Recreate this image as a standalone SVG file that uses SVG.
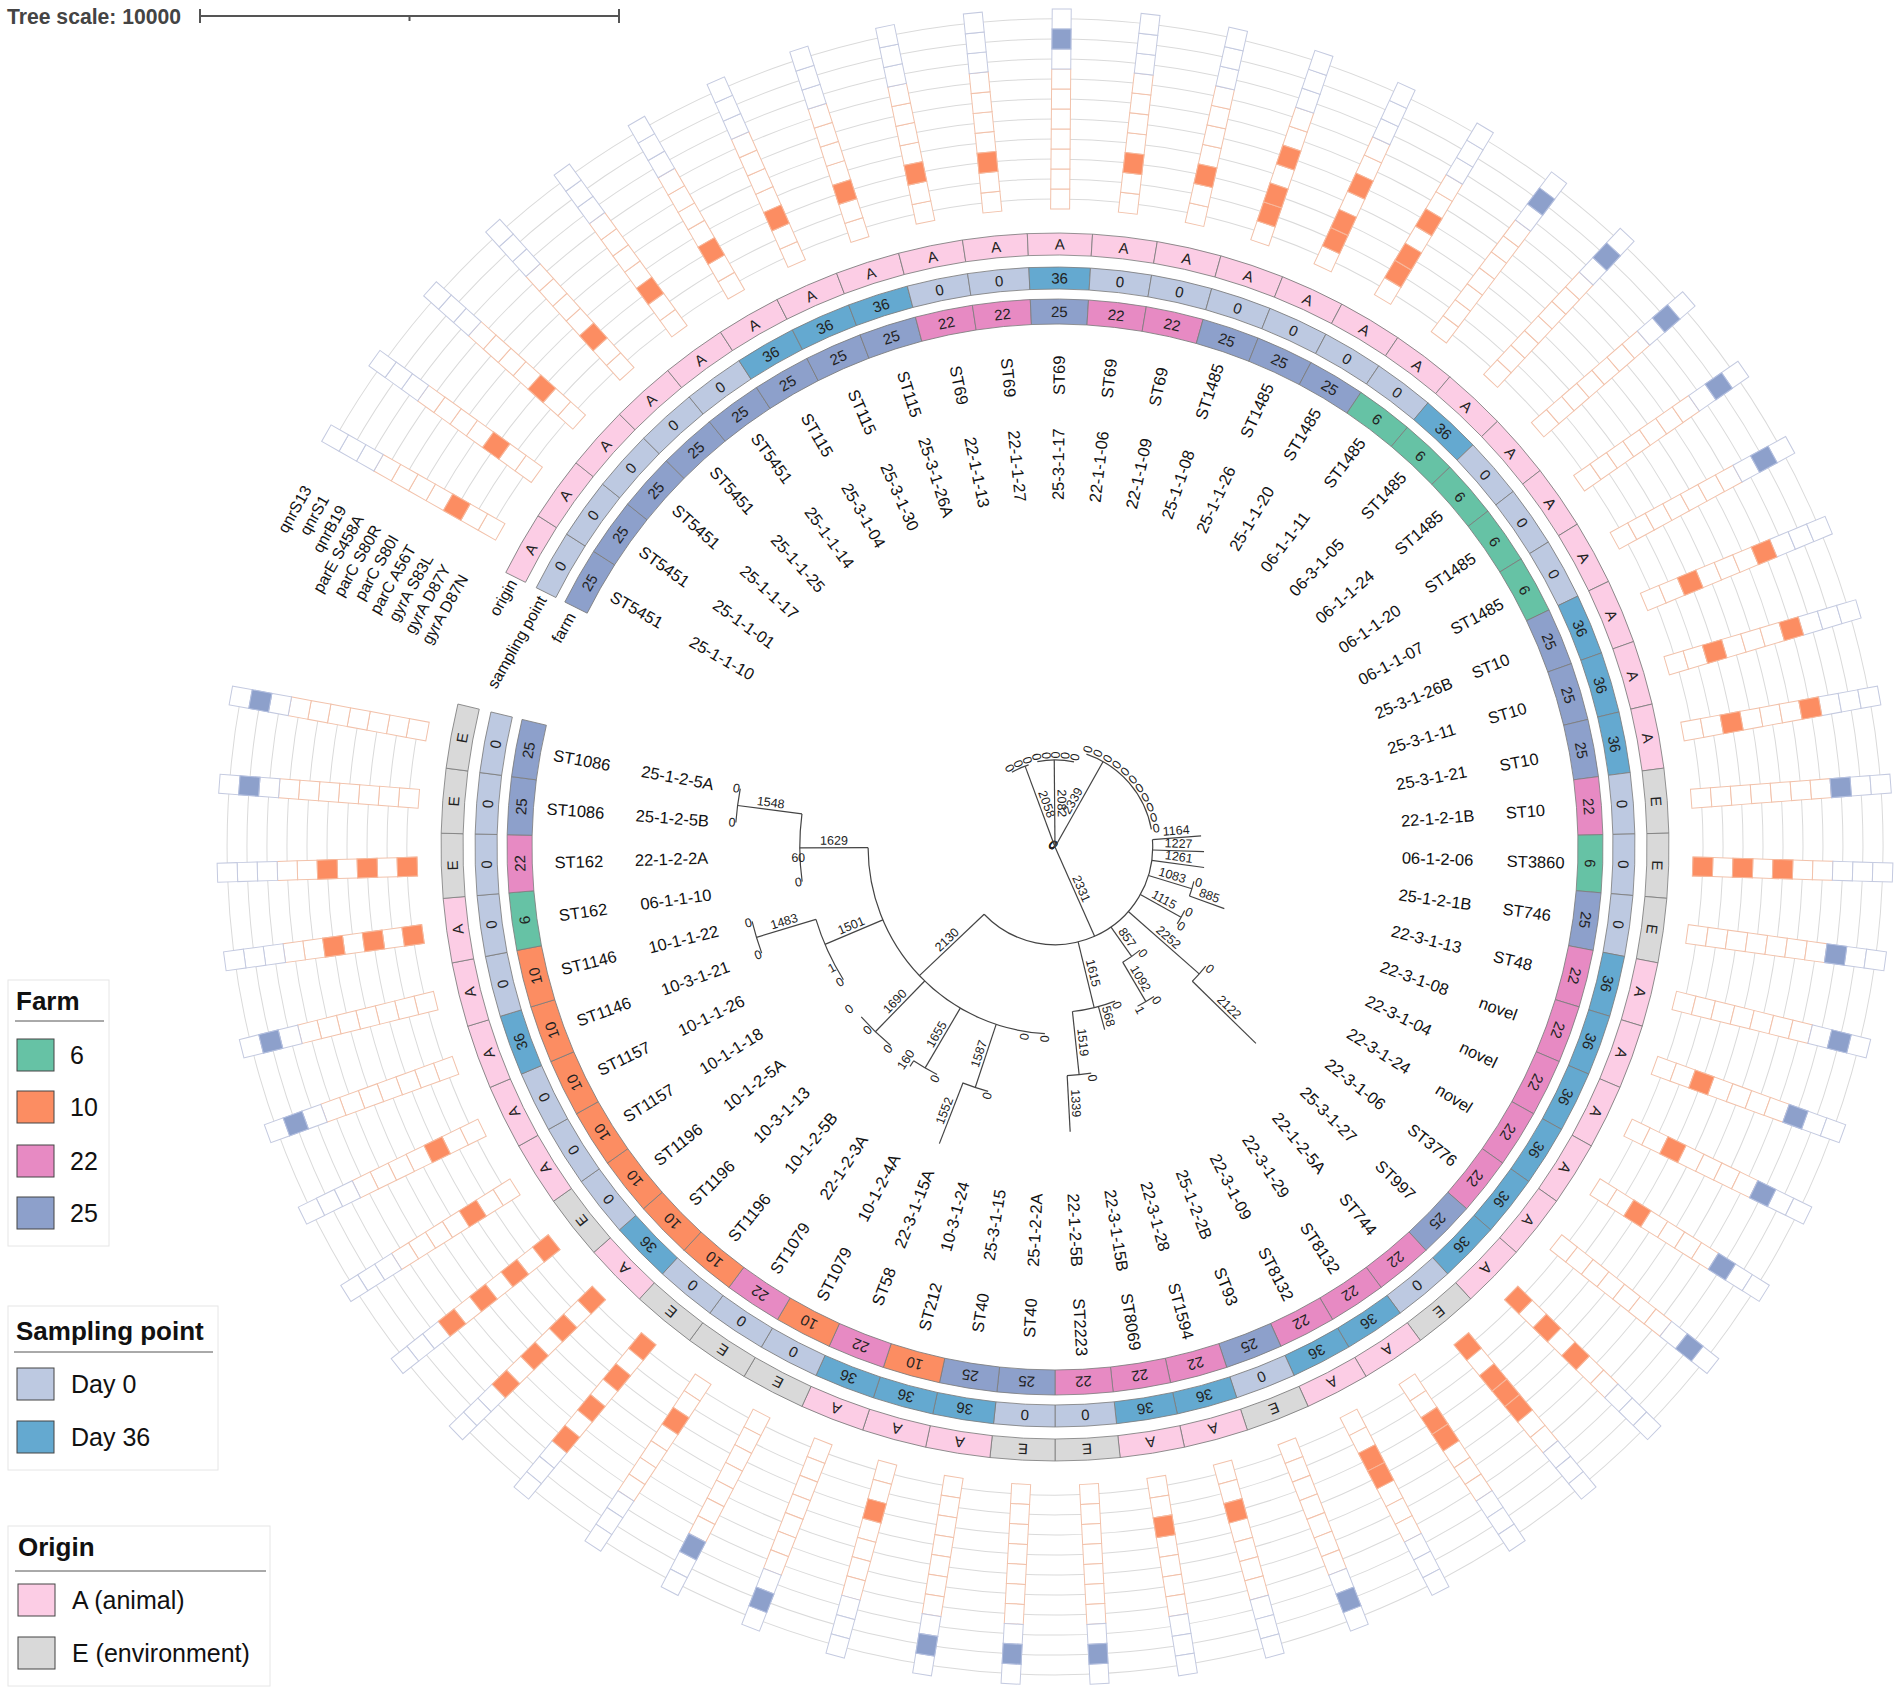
<svg xmlns="http://www.w3.org/2000/svg" xmlns:xlink="http://www.w3.org/1999/xlink" width="1902" height="1694" viewBox="0 0 1902 1694">
<style>
text{font-family:"Liberation Sans",Arial,sans-serif;fill:#111}
.sec{stroke:#7d7d7d;stroke-width:0.8}
.c6{fill:#66c2a5}.c10{fill:#fc8d62}.c22{fill:#e78ac3}.c25{fill:#8da0cb}
.d0{fill:#bdc9e1}.d36{fill:#64a9d0}.oA{fill:#fccde5}.oE{fill:#d9d9d9}
.rt{font-size:15px;text-anchor:middle;dominant-baseline:central;fill:#222}
.lb{font-size:16.5px;dominant-baseline:central}
.L{text-anchor:end}
.gl{font-size:16px;text-anchor:end;dominant-baseline:central}
.em{fill:#fff;stroke:#f2c2ab;stroke-width:1}
.eq{fill:#fff;stroke:#c4cae0;stroke-width:1}
.fo{fill:#fc8d62;stroke:#f7b89c;stroke-width:1}
.fq{fill:#8da0cb;stroke:#b3bfdf;stroke-width:1}
.grid{fill:none;stroke:#dadada;stroke-width:1}
.tr line,.tr path{stroke:#444;stroke-width:1.2;fill:none}
.bl{font-size:12.5px;text-anchor:middle;fill:#222}
.z{font-size:12.5px;text-anchor:middle;dominant-baseline:central;fill:#222}
.lgb{fill:#fff;stroke:#e6e6e6;stroke-width:1}
.lgt{font-size:26px;font-weight:bold}
.lgl{font-size:25px}
.sw{stroke:#444;stroke-width:1}
</style>
<defs>
<path id="sf" class="sec" d="M-29.09,-547.23A548,548 0 0 1 29.09,-547.23L27.77,-522.26A523,523 0 0 0 -27.77,-522.26Z"/>
<path id="ss" class="sec" d="M-30.79,-579.18A580,580 0 0 1 30.79,-579.18L29.62,-557.21A558,558 0 0 0 -29.62,-557.21Z"/>
<path id="so" class="sec" d="M-32.60,-613.13A614,614 0 0 1 32.60,-613.13L31.43,-591.17A592,592 0 0 0 -31.43,-591.17Z"/>
<g id="col">
<rect class="em" x="-9.5" y="-658" width="19" height="20"/>
<rect class="em" x="-9.5" y="-678" width="19" height="20"/>
<rect class="em" x="-9.5" y="-698" width="19" height="20"/>
<rect class="em" x="-9.5" y="-718" width="19" height="20"/>
<rect class="em" x="-9.5" y="-738" width="19" height="20"/>
<rect class="em" x="-9.5" y="-758" width="19" height="20"/>
<rect class="em" x="-9.5" y="-778" width="19" height="20"/>
<rect class="eq" x="-9.5" y="-798" width="19" height="20"/>
<rect class="eq" x="-9.5" y="-818" width="19" height="20"/>
<rect class="eq" x="-9.5" y="-838" width="19" height="20"/>
</g>
<rect id="o1" class="fo" x="-9.5" y="-658" width="19" height="20"/>
<rect id="o2" class="fo" x="-9.5" y="-678" width="19" height="20"/>
<rect id="o3" class="fo" x="-9.5" y="-698" width="19" height="20"/>
<rect id="o4" class="fo" x="-9.5" y="-718" width="19" height="20"/>
<rect id="o5" class="fo" x="-9.5" y="-738" width="19" height="20"/>
<rect id="o6" class="fo" x="-9.5" y="-758" width="19" height="20"/>
<rect id="o7" class="fo" x="-9.5" y="-778" width="19" height="20"/>
<rect id="q8" class="fq" x="-9.5" y="-798" width="19" height="20"/>
<rect id="q9" class="fq" x="-9.5" y="-818" width="19" height="20"/>
<rect id="q10" class="fq" x="-9.5" y="-838" width="19" height="20"/>
</defs>
<rect width="1902" height="1694" fill="#fff"/>

<g id="tree-scale">
<text x="7" y="24" font-size="22" font-weight="bold" style="fill:#444" textLength="174" lengthAdjust="spacingAndGlyphs">Tree scale: 10000</text>
<g stroke="#555" stroke-width="2" fill="none">
<line x1="200" y1="16" x2="619" y2="16"/>
<line x1="200" y1="9" x2="200" y2="23"/>
<line x1="619" y1="9" x2="619" y2="23"/>
<line x1="409.5" y1="16" x2="409.5" y2="21"/>
</g>
</g>

<g id="grid" class="grid" transform="translate(1055,847) rotate(-60.4)">
<path d="M0,-648A648,648 0 1 1 -212.9,-612.0"/>
<path d="M0,-668A668,668 0 1 1 -219.4,-630.9"/>
<path d="M0,-688A688,688 0 1 1 -226.0,-649.8"/>
<path d="M0,-708A708,708 0 1 1 -232.6,-668.7"/>
<path d="M0,-728A728,728 0 1 1 -239.1,-687.6"/>
<path d="M0,-748A748,748 0 1 1 -245.7,-706.5"/>
<path d="M0,-768A768,768 0 1 1 -252.3,-725.4"/>
<path d="M0,-788A788,788 0 1 1 -258.9,-744.3"/>
<path d="M0,-808A808,808 0 1 1 -265.4,-763.2"/>
<path d="M0,-828A828,828 0 1 1 -272.0,-782.0"/>
</g>

<g id="dataset-labels" transform="translate(1055,847) rotate(-60.4)">
<text class="gl" x="-56" y="-828">qnrS13</text>
<text class="gl" x="-56" y="-808">qnrS1</text>
<text class="gl" x="-56" y="-788">qnrB19</text>
<text class="gl" x="-56" y="-768">parE  S458A</text>
<text class="gl" x="-56" y="-748">parC  S80R</text>
<text class="gl" x="-56" y="-728">parC  S80I</text>
<text class="gl" x="-56" y="-708">parC  A56T</text>
<text class="gl" x="-56" y="-688">gyrA  S83L</text>
<text class="gl" x="-56" y="-668">gyrA  D87Y</text>
<text class="gl" x="-56" y="-648">gyrA  D87N</text>
<text class="gl" x="-36" y="-603">origin</text>
<text class="gl" x="-36" y="-569">sampling point</text>
<text class="gl" x="-36" y="-535.5">farm</text>
</g>

<g id="connectors" class="tr" transform="translate(1055,847)">
<text class="z" transform="rotate(29.6)" x="-3">0</text>
<text class="z" transform="rotate(35.7)" x="-3">0</text>
<text class="z" transform="rotate(41.8)" x="-3">0</text>
<text class="z" transform="rotate(47.9)" x="-3">0</text>
<text class="z" transform="rotate(53.9)" x="-3">0</text>
<line transform="rotate(-20.3)" y1="0" y2="-86.2"/>
<text class="bl" transform="rotate(69.7)" x="-43" y="-3">2058</text>
<path transform="rotate(-30)" d="M0,-86.2A86.2,86.2 0 0 1 18.22,-84.25"/>
<text class="z" transform="rotate(60.03)" x="-91">0</text>
<text class="z" transform="rotate(66.12)" x="-91">0</text>
<text class="z" transform="rotate(72.2)" x="-91">0</text>
<line transform="rotate(-0.5)" y1="0" y2="-87.2"/>
<text class="bl" transform="rotate(89.5)" x="-43.6" y="-3">2082</text>
<path transform="rotate(-11.7)" d="M0,-87.2A87.2,87.2 0 0 1 35.88,-79.47"/>
<text class="z" transform="rotate(78.29)" x="-92">0</text>
<text class="z" transform="rotate(84.37)" x="-92">0</text>
<text class="z" transform="rotate(-89.54)" x="92">0</text>
<text class="z" transform="rotate(-83.45)" x="92">0</text>
<text class="z" transform="rotate(-77.37)" x="92">0</text>
<line transform="rotate(29.4)" y1="0" y2="-98"/>
<text class="bl" transform="rotate(-60.6)" x="49" y="-3">2339</text>
<path transform="rotate(18.7)" d="M0,-98A98,98 0 0 1 85.63,-47.66"/>
<text class="z" transform="rotate(-71.28)" x="103">0</text>
<text class="z" transform="rotate(-65.2)" x="103">0</text>
<text class="z" transform="rotate(-59.11)" x="103">0</text>
<text class="z" transform="rotate(-53.02)" x="103">0</text>
<text class="z" transform="rotate(-46.94)" x="103">0</text>
<text class="z" transform="rotate(-40.85)" x="103">0</text>
<text class="z" transform="rotate(-34.77)" x="103">0</text>
<text class="z" transform="rotate(-28.68)" x="103">0</text>
<text class="z" transform="rotate(-22.59)" x="103">0</text>
<text class="z" transform="rotate(-16.51)" x="103">0</text>
<text class="z" transform="rotate(-10.42)" x="103">0</text>
<line transform="rotate(156.1)" y1="0" y2="-97.7"/>
<text class="bl" transform="rotate(66.1)" x="48.9" y="-3">2331</text>
<path transform="rotate(85.7)" d="M0,-97.7A97.7,97.7 0 0 1 61.75,75.71"/>
<line transform="rotate(85.66)" y1="-97.7" y2="-146.5"/>
<text class="bl" transform="rotate(-4.34)" x="122" y="-3">1164</text>
<line transform="rotate(91.75)" y1="-97.7" y2="-149.1"/>
<text class="bl" transform="rotate(1.75)" x="123.4" y="-3">1227</text>
<line transform="rotate(97.84)" y1="-97.7" y2="-150.5"/>
<text class="bl" transform="rotate(7.84)" x="124.1" y="-3">1261</text>
<line transform="rotate(106.95)" y1="-97.7" y2="-143.1"/>
<text class="bl" transform="rotate(16.95)" x="120.4" y="-3">1083</text>
<path transform="rotate(103.9)" d="M0,-143.1A143.1,143.1 0 0 1 15.21,-142.29"/>
<text class="z" transform="rotate(13.92)" x="148">0</text>
<line transform="rotate(110.01)" y1="-143.1" y2="-180.2"/>
<text class="bl" transform="rotate(20.01)" x="161.7" y="-3">885</text>
<line transform="rotate(119.15)" y1="-97.7" y2="-144.4"/>
<text class="bl" transform="rotate(29.15)" x="121" y="-3">1115</text>
<path transform="rotate(116.1)" d="M0,-144.4A144.4,144.4 0 0 1 15.34,-143.58"/>
<text class="z" transform="rotate(26.09)" x="149">0</text>
<text class="z" transform="rotate(32.18)" x="149">0</text>
<line transform="rotate(131.35)" y1="-97.7" y2="-192.1"/>
<text class="bl" transform="rotate(41.35)" x="144.9" y="-3">2252</text>
<path transform="rotate(128.3)" d="M0,-192.1A192.1,192.1 0 0 1 20.41,-191.01"/>
<text class="z" transform="rotate(38.27)" x="197">0</text>
<line transform="rotate(134.35)" y1="-192.1" y2="-281"/>
<text class="bl" transform="rotate(44.35)" x="236.5" y="-3">2122</text>
<line transform="rotate(145)" y1="-97.7" y2="-133.6"/>
<text class="bl" transform="rotate(55)" x="115.6" y="-3">857</text>
<path transform="rotate(140.5)" d="M0,-133.6A133.6,133.6 0 0 1 21.01,-131.94"/>
<text class="z" transform="rotate(50.44)" x="138">0</text>
<line transform="rotate(149.55)" y1="-133.6" y2="-179.4"/>
<text class="bl" transform="rotate(59.55)" x="156.5" y="-3">1092</text>
<path transform="rotate(146.5)" d="M0,-179.4A179.4,179.4 0 0 1 19.06,-178.38"/>
<text class="z" transform="rotate(56.52)" x="184">0</text>
<text class="z" transform="rotate(62.61)" x="184">1</text>
<line transform="rotate(166.3)" y1="-97.7" y2="-165.4"/>
<text class="bl" transform="rotate(76.3)" x="131.5" y="-3">1615</text>
<path transform="rotate(158.7)" d="M0,-165.4A165.4,165.4 0 0 1 43.50,-159.58"/>
<text class="z" transform="rotate(68.7)" x="170">0</text>
<line transform="rotate(164.78)" y1="-165.4" y2="-189.2"/>
<text class="bl" transform="rotate(74.78)" x="177.3" y="-3">568</text>
<line transform="rotate(173.95)" y1="-165.4" y2="-229"/>
<text class="bl" transform="rotate(83.95)" x="197.2" y="-3">1519</text>
<path transform="rotate(170.9)" d="M0,-229A229,229 0 0 1 24.33,-227.7"/>
<text class="z" transform="rotate(80.87)" x="234">0</text>
<line transform="rotate(176.95)" y1="-229" y2="-285.1"/>
<text class="bl" transform="rotate(86.95)" x="257" y="-3">1339</text>
<line transform="rotate(226.5)" y1="-97.7" y2="-186.9"/>
<text class="bl" transform="rotate(316.5)" x="-142.3" y="-3">2130</text>
<path transform="rotate(183.1)" d="M0,-186.9A186.9,186.9 0 0 1 186.59,-10.76"/>
<text class="z" transform="rotate(273.04)" x="-192">0</text>
<text class="z" transform="rotate(279.13)" x="-192">0</text>
<line transform="rotate(198.35)" y1="-186.9" y2="-253.4"/>
<text class="bl" transform="rotate(288.35)" x="-220.2" y="-3">1587</text>
<path transform="rotate(195.3)" d="M0,-253.4A253.4,253.4 0 0 1 26.93,-251.97"/>
<text class="z" transform="rotate(285.21)" x="-258">0</text>
<line transform="rotate(201.3)" y1="-253.4" y2="-318.4"/>
<text class="bl" transform="rotate(291.3)" x="-285.9" y="-3">1552</text>
<line transform="rotate(210.45)" y1="-186.9" y2="-256.2"/>
<text class="bl" transform="rotate(300.45)" x="-221.6" y="-3">1655</text>
<path transform="rotate(207.4)" d="M0,-256.2A256.2,256.2 0 0 1 27.22,-254.75"/>
<text class="z" transform="rotate(297.38)" x="-261">0</text>
<line transform="rotate(213.47)" y1="-256.2" y2="-262.9"/>
<text class="bl" transform="rotate(303.47)" x="-259.6" y="-3">160</text>
<line transform="rotate(224.2)" y1="-186.9" y2="-257.7"/>
<text class="bl" transform="rotate(314.2)" x="-222.3" y="-3">1690</text>
<path transform="rotate(219.6)" d="M0,-257.7A257.7,257.7 0 0 1 40.98,-254.43"/>
<text class="z" transform="rotate(309.56)" x="-262">0</text>
<text class="z" transform="rotate(315.64)" x="-262">0</text>
<text class="z" transform="rotate(321.73)" x="-262">0</text>
<line transform="rotate(247.05)" y1="-186.9" y2="-249.8"/>
<text class="bl" transform="rotate(337.05)" x="-218.4" y="-3">1501</text>
<path transform="rotate(237.9)" d="M0,-249.8A249.8,249.8 0 0 1 65.7,-241.0"/>
<text class="z" transform="rotate(327.81)" x="-254">0</text>
<text class="z" transform="rotate(331.5)" x="-254">1</text>
<line transform="rotate(253.15)" y1="-249.8" y2="-311.9"/>
<text class="bl" transform="rotate(343.15)" x="-280.9" y="-3">1483</text>
<path transform="rotate(250.1)" d="M0,-311.9A311.9,311.9 0 0 1 33.14,-310.14"/>
<text class="z" transform="rotate(339.99)" x="-316">0</text>
<text class="z" transform="rotate(346.07)" x="-316">0</text>
<line transform="rotate(269.8)" y1="-186.9" y2="-255.2"/>
<text class="bl" transform="rotate(359.8)" x="-221" y="-3">1629</text>
<path transform="rotate(262.2)" d="M0,-255.2A255.2,255.2 0 0 1 67.12,-246.22"/>
<text class="z" transform="rotate(352.16)" x="-259">0</text>
<text class="bl" transform="rotate(358.24)" x="-257" y="7">60</text>
<line transform="rotate(277.45)" y1="-255.2" y2="-320.1"/>
<text class="bl" transform="rotate(7.45)" x="-287.6" y="-3">1548</text>
<path transform="rotate(274.4)" d="M0,-320.1A320.1,320.1 0 0 1 34.01,-318.29"/>
<text class="z" transform="rotate(4.33)" x="-324">0</text>
<text class="z" transform="rotate(10.42)" x="-324">0</text>
</g>

<g id="leaves" transform="translate(1055,847)">
<g id="n1" transform="rotate(-60.4)"><use href="#sf" class="c25"/><use href="#ss" class="d0"/><use href="#so" class="oA"/><text class="rt" y="-535.5">25</text><text class="rt" y="-569">0</text><text class="rt" y="-603">A</text><text class="lb L" transform="rotate(90)" x="-347">25-1-1-10</text><text class="lb L" transform="rotate(90)" x="-452">ST5451</text><use href="#col"/><use href="#o3"/></g>
<g id="n2" transform="rotate(-54.31)"><use href="#sf" class="c25"/><use href="#ss" class="d0"/><use href="#so" class="oA"/><text class="rt" y="-535.5">25</text><text class="rt" y="-569">0</text><text class="rt" y="-603">A</text><text class="lb L" transform="rotate(90)" x="-347">25-1-1-01</text><text class="lb L" transform="rotate(90)" x="-452">ST5451</text><use href="#col"/><use href="#o3"/></g>
<g id="n3" transform="rotate(-48.23)"><use href="#sf" class="c25"/><use href="#ss" class="d0"/><use href="#so" class="oA"/><text class="rt" y="-535.5">25</text><text class="rt" y="-569">0</text><text class="rt" y="-603">A</text><text class="lb L" transform="rotate(90)" x="-347">25-1-1-17</text><text class="lb L" transform="rotate(90)" x="-452">ST5451</text><use href="#col"/><use href="#o3"/></g>
<g id="n4" transform="rotate(-42.14)"><use href="#sf" class="c25"/><use href="#ss" class="d0"/><use href="#so" class="oA"/><text class="rt" y="-535.5">25</text><text class="rt" y="-569">0</text><text class="rt" y="-603">A</text><text class="lb L" transform="rotate(90)" x="-347">25-1-1-25</text><text class="lb L" transform="rotate(90)" x="-452">ST5451</text><use href="#col"/><use href="#o3"/></g>
<g id="n5" transform="rotate(-36.06)"><use href="#sf" class="c25"/><use href="#ss" class="d0"/><use href="#so" class="oA"/><text class="rt" y="-535.5">25</text><text class="rt" y="-569">0</text><text class="rt" y="-603">A</text><text class="lb L" transform="rotate(90)" x="-347">25-1-1-14</text><text class="lb L" transform="rotate(90)" x="-452">ST5451</text><use href="#col"/><use href="#o3"/></g>
<g id="n6" transform="rotate(-29.97)"><use href="#sf" class="c25"/><use href="#ss" class="d36"/><use href="#so" class="oA"/><text class="rt" y="-535.5">25</text><text class="rt" y="-569">36</text><text class="rt" y="-603">A</text><text class="lb L" transform="rotate(90)" x="-347">25-3-1-04</text><text class="lb L" transform="rotate(90)" x="-452">ST115</text><use href="#col"/><use href="#o3"/></g>
<g id="n7" transform="rotate(-23.88)"><use href="#sf" class="c25"/><use href="#ss" class="d36"/><use href="#so" class="oA"/><text class="rt" y="-535.5">25</text><text class="rt" y="-569">36</text><text class="rt" y="-603">A</text><text class="lb L" transform="rotate(90)" x="-347">25-3-1-30</text><text class="lb L" transform="rotate(90)" x="-452">ST115</text><use href="#col"/><use href="#o3"/></g>
<g id="n8" transform="rotate(-17.8)"><use href="#sf" class="c25"/><use href="#ss" class="d36"/><use href="#so" class="oA"/><text class="rt" y="-535.5">25</text><text class="rt" y="-569">36</text><text class="rt" y="-603">A</text><text class="lb L" transform="rotate(90)" x="-347">25-3-1-26A</text><text class="lb L" transform="rotate(90)" x="-452">ST115</text><use href="#col"/><use href="#o3"/></g>
<g id="n9" transform="rotate(-11.71)"><use href="#sf" class="c22"/><use href="#ss" class="d0"/><use href="#so" class="oA"/><text class="rt" y="-535.5">22</text><text class="rt" y="-569">0</text><text class="rt" y="-603">A</text><text class="lb L" transform="rotate(90)" x="-347">22-1-1-13</text><text class="lb L" transform="rotate(90)" x="-452">ST69</text><use href="#col"/><use href="#o3"/></g>
<g id="n10" transform="rotate(-5.63)"><use href="#sf" class="c22"/><use href="#ss" class="d0"/><use href="#so" class="oA"/><text class="rt" y="-535.5">22</text><text class="rt" y="-569">0</text><text class="rt" y="-603">A</text><text class="lb L" transform="rotate(90)" x="-347">22-1-1-27</text><text class="lb L" transform="rotate(90)" x="-452">ST69</text><use href="#col"/><use href="#o3"/></g>
<g id="n11" transform="rotate(0.46)"><use href="#sf" class="c25"/><use href="#ss" class="d36"/><use href="#so" class="oA"/><text class="rt" y="-535.5">25</text><text class="rt" y="-569">36</text><text class="rt" y="-603">A</text><text class="lb" transform="rotate(-90)" x="347">25-3-1-17</text><text class="lb" transform="rotate(-90)" x="452">ST69</text><use href="#col"/><use href="#q9"/></g>
<g id="n12" transform="rotate(6.55)"><use href="#sf" class="c22"/><use href="#ss" class="d0"/><use href="#so" class="oA"/><text class="rt" y="-535.5">22</text><text class="rt" y="-569">0</text><text class="rt" y="-603">A</text><text class="lb" transform="rotate(-90)" x="347">22-1-1-06</text><text class="lb" transform="rotate(-90)" x="452">ST69</text><use href="#col"/><use href="#o3"/></g>
<g id="n13" transform="rotate(12.63)"><use href="#sf" class="c22"/><use href="#ss" class="d0"/><use href="#so" class="oA"/><text class="rt" y="-535.5">22</text><text class="rt" y="-569">0</text><text class="rt" y="-603">A</text><text class="lb" transform="rotate(-90)" x="347">22-1-1-09</text><text class="lb" transform="rotate(-90)" x="452">ST69</text><use href="#col"/><use href="#o3"/></g>
<g id="n14" transform="rotate(18.72)"><use href="#sf" class="c25"/><use href="#ss" class="d0"/><use href="#so" class="oA"/><text class="rt" y="-535.5">25</text><text class="rt" y="-569">0</text><text class="rt" y="-603">A</text><text class="lb" transform="rotate(-90)" x="347">25-1-1-08</text><text class="lb" transform="rotate(-90)" x="452">ST1485</text><use href="#col"/><use href="#o2"/><use href="#o3"/><use href="#o5"/></g>
<g id="n15" transform="rotate(24.8)"><use href="#sf" class="c25"/><use href="#ss" class="d0"/><use href="#so" class="oA"/><text class="rt" y="-535.5">25</text><text class="rt" y="-569">0</text><text class="rt" y="-603">A</text><text class="lb" transform="rotate(-90)" x="347">25-1-1-26</text><text class="lb" transform="rotate(-90)" x="452">ST1485</text><use href="#col"/><use href="#o2"/><use href="#o3"/><use href="#o5"/></g>
<g id="n16" transform="rotate(30.89)"><use href="#sf" class="c25"/><use href="#ss" class="d0"/><use href="#so" class="oA"/><text class="rt" y="-535.5">25</text><text class="rt" y="-569">0</text><text class="rt" y="-603">A</text><text class="lb" transform="rotate(-90)" x="347">25-1-1-20</text><text class="lb" transform="rotate(-90)" x="452">ST1485</text><use href="#col"/><use href="#o2"/><use href="#o3"/><use href="#o5"/></g>
<g id="n17" transform="rotate(36.98)"><use href="#sf" class="c6"/><use href="#ss" class="d0"/><use href="#so" class="oA"/><text class="rt" y="-535.5">6</text><text class="rt" y="-569">0</text><text class="rt" y="-603">A</text><text class="lb" transform="rotate(-90)" x="347">06-1-1-11</text><text class="lb" transform="rotate(-90)" x="452">ST1485</text><use href="#col"/><use href="#q9"/></g>
<g id="n18" transform="rotate(43.06)"><use href="#sf" class="c6"/><use href="#ss" class="d36"/><use href="#so" class="oA"/><text class="rt" y="-535.5">6</text><text class="rt" y="-569">36</text><text class="rt" y="-603">A</text><text class="lb" transform="rotate(-90)" x="347">06-3-1-05</text><text class="lb" transform="rotate(-90)" x="452">ST1485</text><use href="#col"/><use href="#q9"/></g>
<g id="n19" transform="rotate(49.15)"><use href="#sf" class="c6"/><use href="#ss" class="d0"/><use href="#so" class="oA"/><text class="rt" y="-535.5">6</text><text class="rt" y="-569">0</text><text class="rt" y="-603">A</text><text class="lb" transform="rotate(-90)" x="347">06-1-1-24</text><text class="lb" transform="rotate(-90)" x="452">ST1485</text><use href="#col"/><use href="#q9"/></g>
<g id="n20" transform="rotate(55.23)"><use href="#sf" class="c6"/><use href="#ss" class="d0"/><use href="#so" class="oA"/><text class="rt" y="-535.5">6</text><text class="rt" y="-569">0</text><text class="rt" y="-603">A</text><text class="lb" transform="rotate(-90)" x="347">06-1-1-20</text><text class="lb" transform="rotate(-90)" x="452">ST1485</text><use href="#col"/><use href="#q9"/></g>
<g id="n21" transform="rotate(61.32)"><use href="#sf" class="c6"/><use href="#ss" class="d0"/><use href="#so" class="oA"/><text class="rt" y="-535.5">6</text><text class="rt" y="-569">0</text><text class="rt" y="-603">A</text><text class="lb" transform="rotate(-90)" x="347">06-1-1-07</text><text class="lb" transform="rotate(-90)" x="452">ST1485</text><use href="#col"/><use href="#q9"/></g>
<g id="n22" transform="rotate(67.41)"><use href="#sf" class="c25"/><use href="#ss" class="d36"/><use href="#so" class="oA"/><text class="rt" y="-535.5">25</text><text class="rt" y="-569">36</text><text class="rt" y="-603">A</text><text class="lb" transform="rotate(-90)" x="347">25-3-1-26B</text><text class="lb" transform="rotate(-90)" x="452">ST10</text><use href="#col"/><use href="#o3"/><use href="#o7"/></g>
<g id="n23" transform="rotate(73.49)"><use href="#sf" class="c25"/><use href="#ss" class="d36"/><use href="#so" class="oA"/><text class="rt" y="-535.5">25</text><text class="rt" y="-569">36</text><text class="rt" y="-603">A</text><text class="lb" transform="rotate(-90)" x="347">25-3-1-11</text><text class="lb" transform="rotate(-90)" x="452">ST10</text><use href="#col"/><use href="#o3"/><use href="#o7"/></g>
<g id="n24" transform="rotate(79.58)"><use href="#sf" class="c25"/><use href="#ss" class="d36"/><use href="#so" class="oA"/><text class="rt" y="-535.5">25</text><text class="rt" y="-569">36</text><text class="rt" y="-603">A</text><text class="lb" transform="rotate(-90)" x="347">25-3-1-21</text><text class="lb" transform="rotate(-90)" x="452">ST10</text><use href="#col"/><use href="#o3"/><use href="#o7"/></g>
<g id="n25" transform="rotate(85.66)"><use href="#sf" class="c22"/><use href="#ss" class="d0"/><use href="#so" class="oE"/><text class="rt" y="-535.5">22</text><text class="rt" y="-569">0</text><text class="rt" y="-603">E</text><text class="lb" transform="rotate(-90)" x="347">22-1-2-1B</text><text class="lb" transform="rotate(-90)" x="452">ST10</text><use href="#col"/><use href="#q8"/></g>
<g id="n26" transform="rotate(91.75)"><use href="#sf" class="c6"/><use href="#ss" class="d0"/><use href="#so" class="oE"/><text class="rt" y="-535.5">6</text><text class="rt" y="-569">0</text><text class="rt" y="-603">E</text><text class="lb" transform="rotate(-90)" x="347">06-1-2-06</text><text class="lb" transform="rotate(-90)" x="452">ST3860</text><use href="#col"/><use href="#o1"/><use href="#o3"/><use href="#o5"/></g>
<g id="n27" transform="rotate(97.84)"><use href="#sf" class="c25"/><use href="#ss" class="d0"/><use href="#so" class="oE"/><text class="rt" y="-535.5">25</text><text class="rt" y="-569">0</text><text class="rt" y="-603">E</text><text class="lb" transform="rotate(-90)" x="347">25-1-2-1B</text><text class="lb" transform="rotate(-90)" x="452">ST746</text><use href="#col"/><use href="#q8"/></g>
<g id="n28" transform="rotate(103.92)"><use href="#sf" class="c22"/><use href="#ss" class="d36"/><use href="#so" class="oA"/><text class="rt" y="-535.5">22</text><text class="rt" y="-569">36</text><text class="rt" y="-603">A</text><text class="lb" transform="rotate(-90)" x="347">22-3-1-13</text><text class="lb" transform="rotate(-90)" x="452">ST48</text><use href="#col"/><use href="#q9"/></g>
<g id="n29" transform="rotate(110.01)"><use href="#sf" class="c22"/><use href="#ss" class="d36"/><use href="#so" class="oA"/><text class="rt" y="-535.5">22</text><text class="rt" y="-569">36</text><text class="rt" y="-603">A</text><text class="lb" transform="rotate(-90)" x="347">22-3-1-08</text><text class="lb" transform="rotate(-90)" x="452">novel</text><use href="#col"/><use href="#o3"/><use href="#q8"/></g>
<g id="n30" transform="rotate(116.09)"><use href="#sf" class="c22"/><use href="#ss" class="d36"/><use href="#so" class="oA"/><text class="rt" y="-535.5">22</text><text class="rt" y="-569">36</text><text class="rt" y="-603">A</text><text class="lb" transform="rotate(-90)" x="347">22-3-1-04</text><text class="lb" transform="rotate(-90)" x="452">novel</text><use href="#col"/><use href="#o3"/><use href="#q8"/></g>
<g id="n31" transform="rotate(122.18)"><use href="#sf" class="c22"/><use href="#ss" class="d36"/><use href="#so" class="oA"/><text class="rt" y="-535.5">22</text><text class="rt" y="-569">36</text><text class="rt" y="-603">A</text><text class="lb" transform="rotate(-90)" x="347">22-3-1-24</text><text class="lb" transform="rotate(-90)" x="452">novel</text><use href="#col"/><use href="#o3"/><use href="#q8"/></g>
<g id="n32" transform="rotate(128.27)"><use href="#sf" class="c22"/><use href="#ss" class="d36"/><use href="#so" class="oA"/><text class="rt" y="-535.5">22</text><text class="rt" y="-569">36</text><text class="rt" y="-603">A</text><text class="lb" transform="rotate(-90)" x="347">22-3-1-06</text><text class="lb" transform="rotate(-90)" x="452">ST3776</text><use href="#col"/><use href="#q9"/></g>
<g id="n33" transform="rotate(134.35)"><use href="#sf" class="c25"/><use href="#ss" class="d36"/><use href="#so" class="oA"/><text class="rt" y="-535.5">25</text><text class="rt" y="-569">36</text><text class="rt" y="-603">A</text><text class="lb" transform="rotate(-90)" x="347">25-3-1-27</text><text class="lb" transform="rotate(-90)" x="452">ST997</text><use href="#col"/><use href="#o1"/><use href="#o3"/><use href="#o5"/></g>
<g id="n34" transform="rotate(140.44)"><use href="#sf" class="c22"/><use href="#ss" class="d0"/><use href="#so" class="oE"/><text class="rt" y="-535.5">22</text><text class="rt" y="-569">0</text><text class="rt" y="-603">E</text><text class="lb" transform="rotate(-90)" x="347">22-1-2-5A</text><text class="lb" transform="rotate(-90)" x="452">ST744</text><use href="#col"/><use href="#o1"/><use href="#o3"/><use href="#o4"/><use href="#o5"/></g>
<g id="n35" transform="rotate(146.52)"><use href="#sf" class="c22"/><use href="#ss" class="d36"/><use href="#so" class="oA"/><text class="rt" y="-535.5">22</text><text class="rt" y="-569">36</text><text class="rt" y="-603">A</text><text class="lb" transform="rotate(-90)" x="347">22-3-1-29</text><text class="lb" transform="rotate(-90)" x="452">ST8132</text><use href="#col"/><use href="#o3"/><use href="#o4"/></g>
<g id="n36" transform="rotate(152.61)"><use href="#sf" class="c22"/><use href="#ss" class="d36"/><use href="#so" class="oA"/><text class="rt" y="-535.5">22</text><text class="rt" y="-569">36</text><text class="rt" y="-603">A</text><text class="lb" transform="rotate(-90)" x="347">22-3-1-09</text><text class="lb" transform="rotate(-90)" x="452">ST8132</text><use href="#col"/><use href="#o3"/><use href="#o4"/></g>
<g id="n37" transform="rotate(158.7)"><use href="#sf" class="c25"/><use href="#ss" class="d0"/><use href="#so" class="oE"/><text class="rt" y="-535.5">25</text><text class="rt" y="-569">0</text><text class="rt" y="-603">E</text><text class="lb" transform="rotate(-90)" x="347">25-1-2-2B</text><text class="lb" transform="rotate(-90)" x="452">ST93</text><use href="#col"/><use href="#q9"/></g>
<g id="n38" transform="rotate(164.78)"><use href="#sf" class="c22"/><use href="#ss" class="d36"/><use href="#so" class="oA"/><text class="rt" y="-535.5">22</text><text class="rt" y="-569">36</text><text class="rt" y="-603">A</text><text class="lb" transform="rotate(-90)" x="347">22-3-1-28</text><text class="lb" transform="rotate(-90)" x="452">ST1594</text><use href="#col"/><use href="#o3"/></g>
<g id="n39" transform="rotate(170.87)"><use href="#sf" class="c22"/><use href="#ss" class="d36"/><use href="#so" class="oA"/><text class="rt" y="-535.5">22</text><text class="rt" y="-569">36</text><text class="rt" y="-603">A</text><text class="lb" transform="rotate(-90)" x="347">22-3-1-15B</text><text class="lb" transform="rotate(-90)" x="452">ST8069</text><use href="#col"/><use href="#o3"/></g>
<g id="n40" transform="rotate(176.95)"><use href="#sf" class="c22"/><use href="#ss" class="d0"/><use href="#so" class="oE"/><text class="rt" y="-535.5">22</text><text class="rt" y="-569">0</text><text class="rt" y="-603">E</text><text class="lb" transform="rotate(-90)" x="347">22-1-2-5B</text><text class="lb" transform="rotate(-90)" x="452">ST2223</text><use href="#col"/><use href="#q9"/></g>
<g id="n41" transform="rotate(183.04)"><use href="#sf" class="c25"/><use href="#ss" class="d0"/><use href="#so" class="oE"/><text class="rt" y="-535.5">25</text><text class="rt" y="-569">0</text><text class="rt" y="-603">E</text><text class="lb L" transform="rotate(90)" x="-347">25-1-2-2A</text><text class="lb L" transform="rotate(90)" x="-452">ST40</text><use href="#col"/><use href="#q9"/></g>
<g id="n42" transform="rotate(189.13)"><use href="#sf" class="c25"/><use href="#ss" class="d36"/><use href="#so" class="oA"/><text class="rt" y="-535.5">25</text><text class="rt" y="-569">36</text><text class="rt" y="-603">A</text><text class="lb L" transform="rotate(90)" x="-347">25-3-1-15</text><text class="lb L" transform="rotate(90)" x="-452">ST40</text><use href="#col"/><use href="#q9"/></g>
<g id="n43" transform="rotate(195.21)"><use href="#sf" class="c10"/><use href="#ss" class="d36"/><use href="#so" class="oA"/><text class="rt" y="-535.5">10</text><text class="rt" y="-569">36</text><text class="rt" y="-603">A</text><text class="lb L" transform="rotate(90)" x="-347">10-3-1-24</text><text class="lb L" transform="rotate(90)" x="-452">ST212</text><use href="#col"/><use href="#o3"/></g>
<g id="n44" transform="rotate(201.3)"><use href="#sf" class="c22"/><use href="#ss" class="d36"/><use href="#so" class="oA"/><text class="rt" y="-535.5">22</text><text class="rt" y="-569">36</text><text class="rt" y="-603">A</text><text class="lb L" transform="rotate(90)" x="-347">22-3-1-15A</text><text class="lb L" transform="rotate(90)" x="-452">ST58</text><use href="#col"/><use href="#q9"/></g>
<g id="n45" transform="rotate(207.38)"><use href="#sf" class="c10"/><use href="#ss" class="d0"/><use href="#so" class="oE"/><text class="rt" y="-535.5">10</text><text class="rt" y="-569">0</text><text class="rt" y="-603">E</text><text class="lb L" transform="rotate(90)" x="-347">10-1-2-4A</text><text class="lb L" transform="rotate(90)" x="-452">ST1079</text><use href="#col"/><use href="#q8"/></g>
<g id="n46" transform="rotate(213.47)"><use href="#sf" class="c22"/><use href="#ss" class="d0"/><use href="#so" class="oE"/><text class="rt" y="-535.5">22</text><text class="rt" y="-569">0</text><text class="rt" y="-603">E</text><text class="lb L" transform="rotate(90)" x="-347">22-1-2-3A</text><text class="lb L" transform="rotate(90)" x="-452">ST1079</text><use href="#col"/><use href="#o3"/></g>
<g id="n47" transform="rotate(219.56)"><use href="#sf" class="c10"/><use href="#ss" class="d0"/><use href="#so" class="oE"/><text class="rt" y="-535.5">10</text><text class="rt" y="-569">0</text><text class="rt" y="-603">E</text><text class="lb L" transform="rotate(90)" x="-347">10-1-2-5B</text><text class="lb L" transform="rotate(90)" x="-452">ST1196</text><use href="#col"/><use href="#o1"/><use href="#o3"/><use href="#o5"/><use href="#o7"/></g>
<g id="n48" transform="rotate(225.64)"><use href="#sf" class="c10"/><use href="#ss" class="d36"/><use href="#so" class="oA"/><text class="rt" y="-535.5">10</text><text class="rt" y="-569">36</text><text class="rt" y="-603">A</text><text class="lb L" transform="rotate(90)" x="-347">10-3-1-13</text><text class="lb L" transform="rotate(90)" x="-452">ST1196</text><use href="#col"/><use href="#o1"/><use href="#o3"/><use href="#o5"/><use href="#o7"/></g>
<g id="n49" transform="rotate(231.73)"><use href="#sf" class="c10"/><use href="#ss" class="d0"/><use href="#so" class="oE"/><text class="rt" y="-535.5">10</text><text class="rt" y="-569">0</text><text class="rt" y="-603">E</text><text class="lb L" transform="rotate(90)" x="-347">10-1-2-5A</text><text class="lb L" transform="rotate(90)" x="-452">ST1196</text><use href="#col"/><use href="#o1"/><use href="#o3"/><use href="#o5"/><use href="#o7"/></g>
<g id="n50" transform="rotate(237.81)"><use href="#sf" class="c10"/><use href="#ss" class="d0"/><use href="#so" class="oA"/><text class="rt" y="-535.5">10</text><text class="rt" y="-569">0</text><text class="rt" y="-603">A</text><text class="lb L" transform="rotate(90)" x="-347">10-1-1-18</text><text class="lb L" transform="rotate(90)" x="-452">ST1157</text><use href="#col"/><use href="#o3"/></g>
<g id="n51" transform="rotate(243.9)"><use href="#sf" class="c10"/><use href="#ss" class="d0"/><use href="#so" class="oA"/><text class="rt" y="-535.5">10</text><text class="rt" y="-569">0</text><text class="rt" y="-603">A</text><text class="lb L" transform="rotate(90)" x="-347">10-1-1-26</text><text class="lb L" transform="rotate(90)" x="-452">ST1157</text><use href="#col"/><use href="#o3"/></g>
<g id="n52" transform="rotate(249.99)"><use href="#sf" class="c10"/><use href="#ss" class="d36"/><use href="#so" class="oA"/><text class="rt" y="-535.5">10</text><text class="rt" y="-569">36</text><text class="rt" y="-603">A</text><text class="lb L" transform="rotate(90)" x="-347">10-3-1-21</text><text class="lb L" transform="rotate(90)" x="-452">ST1146</text><use href="#col"/><use href="#q9"/></g>
<g id="n53" transform="rotate(256.07)"><use href="#sf" class="c10"/><use href="#ss" class="d0"/><use href="#so" class="oA"/><text class="rt" y="-535.5">10</text><text class="rt" y="-569">0</text><text class="rt" y="-603">A</text><text class="lb L" transform="rotate(90)" x="-347">10-1-1-22</text><text class="lb L" transform="rotate(90)" x="-452">ST1146</text><use href="#col"/><use href="#q9"/></g>
<g id="n54" transform="rotate(262.16)"><use href="#sf" class="c6"/><use href="#ss" class="d0"/><use href="#so" class="oA"/><text class="rt" y="-535.5">6</text><text class="rt" y="-569">0</text><text class="rt" y="-603">A</text><text class="lb L" transform="rotate(90)" x="-347">06-1-1-10</text><text class="lb L" transform="rotate(90)" x="-452">ST162</text><use href="#col"/><use href="#o1"/><use href="#o3"/><use href="#o5"/></g>
<g id="n55" transform="rotate(268.24)"><use href="#sf" class="c22"/><use href="#ss" class="d0"/><use href="#so" class="oE"/><text class="rt" y="-535.5">22</text><text class="rt" y="-569">0</text><text class="rt" y="-603">E</text><text class="lb L" transform="rotate(90)" x="-347">22-1-2-2A</text><text class="lb L" transform="rotate(90)" x="-452">ST162</text><use href="#col"/><use href="#o1"/><use href="#o3"/><use href="#o5"/></g>
<g id="n56" transform="rotate(274.33)"><use href="#sf" class="c25"/><use href="#ss" class="d0"/><use href="#so" class="oE"/><text class="rt" y="-535.5">25</text><text class="rt" y="-569">0</text><text class="rt" y="-603">E</text><text class="lb L" transform="rotate(90)" x="-347">25-1-2-5B</text><text class="lb L" transform="rotate(90)" x="-452">ST1086</text><use href="#col"/><use href="#q9"/></g>
<g id="n57" transform="rotate(280.42)"><use href="#sf" class="c25"/><use href="#ss" class="d0"/><use href="#so" class="oE"/><text class="rt" y="-535.5">25</text><text class="rt" y="-569">0</text><text class="rt" y="-603">E</text><text class="lb L" transform="rotate(90)" x="-347">25-1-2-5A</text><text class="lb L" transform="rotate(90)" x="-452">ST1086</text><use href="#col"/><use href="#q9"/></g>
</g>

<g id="legend-farm">
<rect class="lgb" x="8" y="980" width="101" height="266"/>
<text class="lgt" x="16" y="1010">Farm</text>
<line x1="15" y1="1021" x2="104" y2="1021" stroke="#555" stroke-width="1"/>
<rect class="sw c6" x="17" y="1039" width="37" height="32"/><text class="lgl" x="70" y="1064">6</text>
<rect class="sw c10" x="17" y="1091" width="37" height="32"/><text class="lgl" x="70" y="1116">10</text>
<rect class="sw c22" x="17" y="1145" width="37" height="32"/><text class="lgl" x="70" y="1170">22</text>
<rect class="sw c25" x="17" y="1197" width="37" height="32"/><text class="lgl" x="70" y="1222">25</text>
</g>
<g id="legend-sampling">
<rect class="lgb" x="8" y="1306" width="210" height="164"/>
<text class="lgt" x="16" y="1340">Sampling point</text>
<line x1="14" y1="1352" x2="213" y2="1352" stroke="#555" stroke-width="1"/>
<rect class="sw d0" x="17" y="1368" width="37" height="32"/><text class="lgl" x="71" y="1393">Day 0</text>
<rect class="sw d36" x="17" y="1421" width="37" height="32"/><text class="lgl" x="71" y="1446">Day 36</text>
</g>
<g id="legend-origin">
<rect class="lgb" x="8" y="1526" width="262" height="160"/>
<text class="lgt" x="18" y="1556">Origin</text>
<line x1="15" y1="1571" x2="266" y2="1571" stroke="#555" stroke-width="1"/>
<rect class="sw oA" x="18" y="1584" width="37" height="32"/><text class="lgl" x="72" y="1609">A (animal)</text>
<rect class="sw oE" x="18" y="1637" width="37" height="32"/><text class="lgl" x="72" y="1662">E (environment)</text>
</g>
</svg>
